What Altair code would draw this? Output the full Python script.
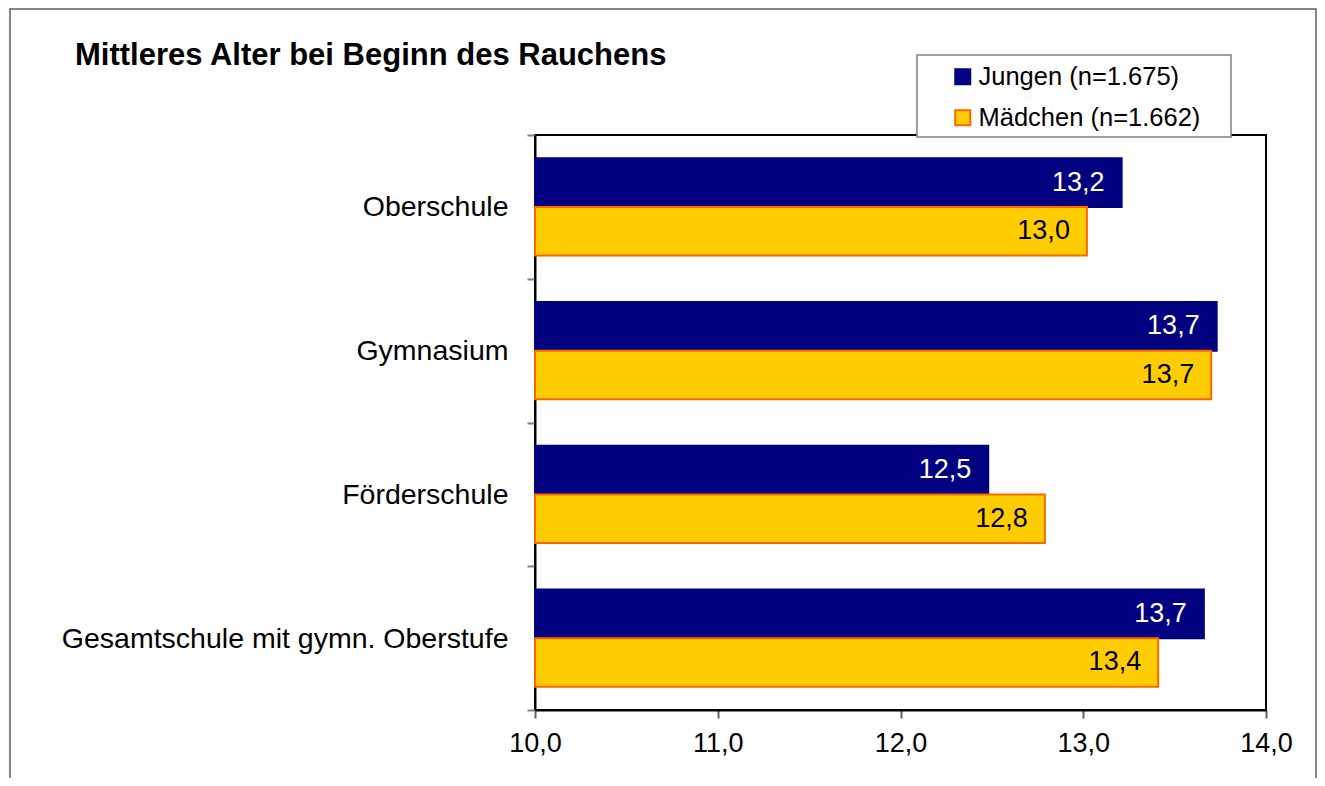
import altair as alt
import pandas as pd

categories = ["Oberschule", "Gymnasium", "Förderschule", "Gesamtschule mit gymn. Oberstufe"]
series = ["Jungen (n=1.675)", "Mädchen (n=1.662)"]
jungen = [13.21, 13.73, 12.48, 13.66]
maedchen = [13.02, 13.70, 12.79, 13.41]
x_ticks = [10, 11, 12, 13, 14]
fill_colors = ["#000080", "#FFCC00"]
stroke_colors = ["#000080", "#FF6600"]
label_colors = ["white", "black"]

rows = []
for c, j, m in zip(categories, jungen, maedchen):
    rows.append({"Schulform": c, "Geschlecht": series[0], "Alter": j})
    rows.append({"Schulform": c, "Geschlecht": series[1], "Alter": m})
df = pd.DataFrame(rows)

FONT = "Liberation Sans"

y = alt.Y(
    "Schulform:N",
    sort=categories,
    scale=alt.Scale(paddingInner=0, paddingOuter=0),
    axis=alt.Axis(
        title=None, tickBand="extent", labelFontSize=28.5, labelPadding=19,
        tickSize=8, tickColor="#808080", tickWidth=2, domainColor="black",
        domainWidth=2, labelColor="black", labelFont=FONT, labelLimit=600,
    ),
)
yoff = alt.YOffset("Geschlecht:N", sort=series,
                   scale=alt.Scale(paddingInner=0, paddingOuter=0.48))
x = alt.X(
    "Alter:Q",
    scale=alt.Scale(domain=[10, 14], zero=False, nice=False),
    axis=alt.Axis(
        values=x_ticks, title=None, grid=False, labelFlush=False,
        labelExpr="replace(format(datum.value, '.1f'), '.', ',')",
        labelFontSize=27, labelPadding=12, tickSize=8, tickColor="#606060",
        tickWidth=2, domainColor="black", domainWidth=2, labelColor="black",
        labelFont=FONT,
    ),
)

leg = alt.Legend(
    title=None, orient="none", legendX=415, legendY=-71, padding=0,
    symbolType="square", symbolSize=225, symbolStrokeWidth=2,
    labelFontSize=25.5, labelFont=FONT, labelColor="black", rowPadding=14,
    labelOffset=3, labelLimit=500,
)

base = alt.Chart(df)

bars = base.mark_bar(strokeWidth=2).encode(
    x=x,
    x2=alt.datum(10),
    y=y,
    yOffset=yoff,
    fill=alt.Fill("Geschlecht:N", sort=series,
                  scale=alt.Scale(domain=series, range=fill_colors), legend=leg),
    stroke=alt.Stroke("Geschlecht:N", sort=series,
                      scale=alt.Scale(domain=series, range=stroke_colors), legend=leg),
)

text = base.transform_calculate(
    label="replace(format(datum.Alter, '.1f'), '.', ',')"
).mark_text(align="right", baseline="middle", dx=-17, fontSize=27, font=FONT).encode(
    x=x,
    y=y,
    yOffset=yoff,
    text="label:N",
    color=alt.Color("Geschlecht:N", scale=alt.Scale(domain=series, range=label_colors),
                    legend=None),
)

frame_df = pd.DataFrame({"k": [0]})
outer = alt.Chart(frame_df).mark_rect(
    fillOpacity=0, stroke="#606060", strokeWidth=1.5
).encode(x=alt.value(-525), x2=alt.value(781), y=alt.value(-126), y2=alt.value(800))

legend_box = alt.Chart(frame_df).mark_rect(
    fill="white", stroke="#808080", strokeWidth=1.5
).encode(x=alt.value(382), x2=alt.value(696), y=alt.value(-80), y2=alt.value(2))

chart = alt.layer(outer, legend_box, bars, text).properties(
    width=731,
    height=575,
    autosize=alt.AutoSizeParams(type="none"),
    padding={"left": 527, "top": 127, "right": 51, "bottom": 68},
    title=alt.TitleParams(
        "Mittleres Alter bei Beginn des Rauchens", anchor="start", frame="group",
        dx=-460, dy=95, fontSize=31, fontWeight="bold", font=FONT, color="black",
        offset=0, baseline="bottom",
    ),
).configure(
    font=FONT, background="white",
    view=alt.ViewConfig(stroke="black", strokeWidth=2),
)

chart.save("out.html", embed_options={"renderer": "svg", "actions": False})
